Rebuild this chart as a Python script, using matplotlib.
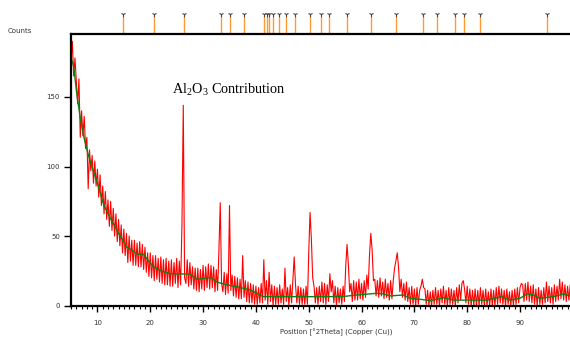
import matplotlib
matplotlib.use("Agg")
import matplotlib.pyplot as plt
import matplotlib.transforms as mtransforms
import numpy as np

# measured pattern, 0.25 deg steps from 5.0 to 99.75 deg 2theta (4 values per degree)
start_deg = 5.0
step_deg = 0.25
counts = [
    176, 190, 165, 178,   # 5
    162, 145, 163, 121,   # 6
    140, 122, 136, 113,   # 7
    121, 84, 112, 97,     # 8
    108, 88, 104, 86,     # 9
    98, 78, 94, 72,       # 10
    86, 66, 82, 62,       # 11
    76, 57, 75, 54,       # 12
    70, 50, 66, 46,       # 13
    62, 43, 58, 38,       # 14
    55, 36, 52, 31,       # 15
    50, 32, 47, 29,       # 16
    47, 29, 45, 28,       # 17
    46, 28, 44, 26,       # 18
    42, 24, 38, 21,       # 19
    38, 20, 36, 18,       # 20
    36, 19, 34, 17,       # 21
    35, 16, 33, 15,       # 22
    34, 15, 32, 14,       # 23
    33, 14, 31, 16,       # 24
    34, 13, 32, 15,       # 25
    58, 144, 20, 16,      # 26
    33, 14, 31, 15,       # 27
    28, 12, 27, 11,       # 28
    27, 10, 26, 12,       # 29
    29, 11, 28, 13,       # 30
    30, 12, 29, 13,       # 31
    28, 10, 26, 11,       # 32
    40, 74, 16, 10,       # 33
    24, 8, 23, 9,         # 34
    72, 11, 22, 7,        # 35
    21, 6, 20, 5,         # 36
    19, 5, 36, 6,         # 37
    18, 3, 17, 2,         # 38
    16, 2, 15, 1,         # 39
    14, 1, 13, 2,         # 40
    16, 2, 33, 4,         # 41
    18, 1, 24, 3,         # 42
    15, 0, 14, 1,         # 43
    13, 1, 15, 2,         # 44
    12, 1, 27, 3,         # 45
    13, 0, 15, 2,         # 46
    18, 35, 15, 2,        # 47
    14, 1, 13, 1,         # 48
    12, 1, 14, 1,         # 49
    38, 67, 48, 20,       # 50
    14, 2, 13, 1,         # 51
    14, 3, 17, 2,         # 52
    16, 1, 15, 3,         # 53
    23, 10, 18, 2,        # 54
    14, 0, 13, 2,         # 55
    12, 1, 14, 3,         # 56
    28, 44, 30, 10,       # 57
    16, 3, 18, 4,         # 58
    17, 4, 19, 5,         # 59
    16, 4, 18, 6,         # 60
    22, 12, 36, 52,       # 61
    40, 18, 19, 7,        # 62
    18, 6, 20, 7,         # 63
    17, 5, 19, 6,         # 64
    16, 4, 18, 5,         # 65
    18, 27, 32, 38,       # 66
    28, 10, 19, 6,        # 67
    16, 4, 17, 3,         # 68
    13, 1, 14, 1,         # 69
    12, 0, 13, 1,         # 70
    11, 14, 19, 13,       # 71
    12, 1, 11, 0,         # 72
    10, 0, 11, 1,         # 73
    13, 1, 11, 0,         # 74
    12, 2, 14, 1,         # 75
    11, 0, 13, 1,         # 76
    12, 1, 11, 0,         # 77
    13, 2, 15, 4,         # 78
    16, 18, 12, 2,        # 79
    14, 1, 12, 0,         # 80
    11, 0, 12, 0,         # 81
    11, 0, 13, 1,         # 82
    11, 0, 12, 0,         # 83
    10, 0, 12, 0,         # 84
    11, 0, 13, 1,         # 85
    14, 2, 12, 1,         # 86
    11, 0, 12, 1,         # 87
    10, 0, 11, 0,         # 88
    12, 1, 13, 2,         # 89
    13, 16, 15, 3,        # 90
    16, 4, 17, 3,         # 91
    14, 2, 15, 1,         # 92
    12, 0, 13, 1,         # 93
    11, 1, 13, 2,         # 94
    17, 3, 14, 2,         # 95
    13, 1, 15, 3,         # 96
    14, 4, 19, 5,         # 97
    17, 4, 15, 3,         # 98
    14, 4, 15, 4,         # 99
]

# fitted background (green)
bg_pos = [5.0, 5.5, 6.0, 6.7, 7.5, 8.3, 9.2, 10.0, 11.1, 12.0, 13.0, 14.0, 15.6,
          16.5, 17.5, 18.7, 19.5, 20.6, 22.0, 23.8, 26.9, 27.5, 28.8, 30.0, 31.3,
          32.6, 34.5, 36.4, 38.9, 40.2, 41.4, 44.0, 49.0, 54.0, 57.0, 59.1, 61.0,
          62.9, 64.0, 65.4, 67.9, 69.2, 71.1, 73.0, 75.5, 77.4, 83.7, 86.5, 88.1,
          90.0, 91.3, 92.5, 93.8, 96.3, 98.2, 99.5]
bg_counts = [178, 172, 155, 136, 120, 108, 97, 88, 73.5, 66, 59, 52, 42,
             40, 37, 37, 33, 28, 25, 23, 22.7, 23, 19, 19.5, 20.4,
             17, 15, 13.6, 11.3, 9, 6.5, 6.5, 6.5, 6.5, 6.8, 7.7, 8.3,
             8.9, 8.5, 7, 7.7, 5.3, 4.6, 3.6, 5.7, 4, 4, 6.5, 4,
             5.3, 8.4, 7.8, 5.3, 6.5, 8.4, 7]

# reference pattern positions (top markers)
ref_pos = [14.8, 20.7, 26.3, 33.35, 35.05, 37.7, 41.6, 42.05, 42.5, 43.2, 44.4,
           45.65, 47.4, 50.25, 52.4, 53.8, 57.25, 61.85, 66.6, 71.65, 74.25,
           77.65, 79.45, 82.45, 95.15]

x_ticks = [10, 20, 30, 40, 50, 60, 70, 80, 90]
y_ticks = [0, 50, 100, 150]

pos = start_deg + step_deg * np.arange(len(counts))

plt.rcParams["mathtext.fontset"] = "custom"
plt.rcParams["mathtext.rm"] = "Liberation Serif"

fig = plt.figure(figsize=(5.70, 3.38), dpi=100)
ax = fig.add_axes([0.1246, 0.0956, 0.8754, 0.803])

ax.plot(pos, counts, color="#ff0000", lw=0.8)
ax.plot(bg_pos, bg_counts, color="#0f800f", lw=1.0)

ax.set_xlim(5.0, 99.46)
ax.set_ylim(0, 195)

for s in ["left", "top", "bottom"]:
    ax.spines[s].set_linewidth(1.6)
ax.spines["right"].set_visible(False)

ax.set_xticks(x_ticks)
ax.set_xticks(np.arange(5, 100, 1), minor=True)
ax.set_yticks(y_ticks)
ax.tick_params(axis="x", which="major", length=4, width=1.0, labelsize=5,
               labelcolor="#333333", pad=6)
ax.tick_params(axis="x", which="minor", length=2.5, width=0.8)
ax.tick_params(axis="y", length=5, width=1.0, labelsize=5, labelcolor="#333333", pad=3)

# top reference lines with Y markers
trans = mtransforms.blended_transform_factory(ax.transData, ax.transAxes)
ax.vlines(ref_pos, 1.0, 1.062, transform=trans, colors="#ff9a30", lw=1.0, clip_on=False)
ax.plot(ref_pos, [1.075] * len(ref_pos), ls="none", marker="1", ms=4, mew=0.8,
        color="#444444", transform=trans, clip_on=False)

fig.text(8 / 570, 1 - 31 / 338, "Counts", fontsize=5, color="#333333", va="center")
fig.text(336 / 570, 1 - 332 / 338, "Position [°2Theta] (Copper (Cu))", fontsize=5,
         color="#333333", ha="center", va="center")

fig.text(172 / 570, 1 - 90 / 338, r"Al$_\mathrm{2}$O$_\mathrm{3}$ Contribution",
         family="Liberation Serif", fontsize=10.3, va="center")

fig.savefig("out.png", dpi=100)
